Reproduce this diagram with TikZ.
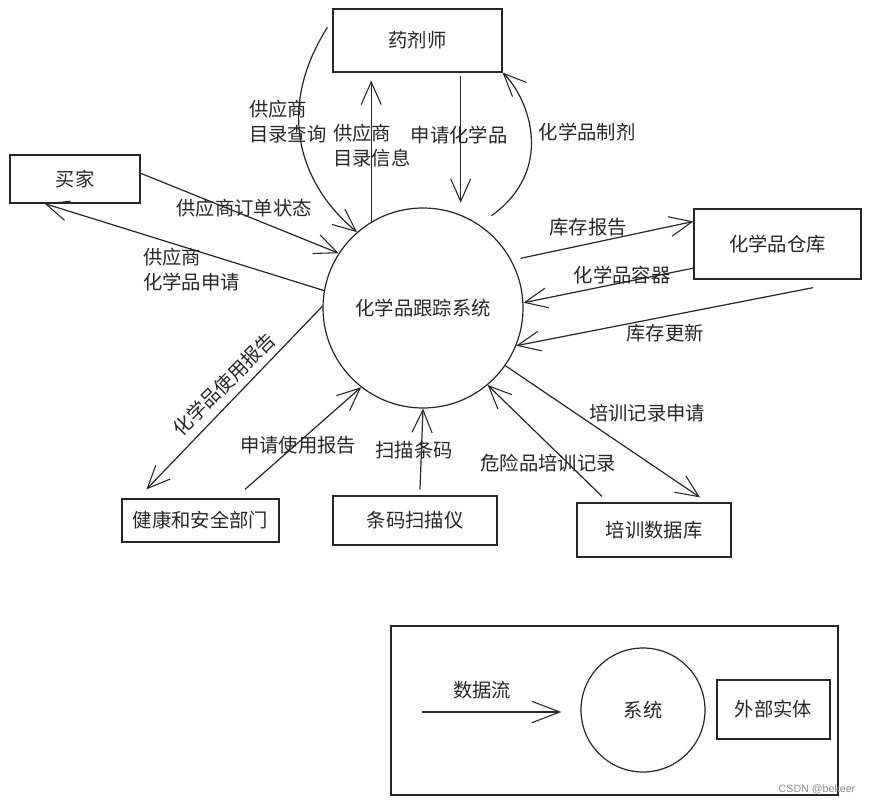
\documentclass[tikz,border=0pt]{standalone}
\usepackage{fontspec}
\setmainfont{Noto Sans CJK SC}
\newfontfamily\wmfont{Liberation Sans}
\usetikzlibrary{arrows.meta,calc}
\begin{document}
\begin{tikzpicture}[x=0.75pt,y=-0.75pt,
  every node/.style={font=\fontsize{14.5}{18.75}\selectfont, text=black!85},
  ent/.style={draw=black!85, line width=0.9pt, inner sep=0pt},
  proc/.style={draw=black!85, line width=0.9pt, circle, inner sep=0pt},
  flow/.style={draw=black!85, line width=0.9pt, -{Straight Barb[length=17pt,width=15pt,line width=0.8pt]}},
  lbl/.style={inner sep=0pt, align=left},
]
\fill[white] (0,0) rectangle (871,803);
\useasboundingbox (0,0) rectangle (871,803);

% entities and processes
\node[ent, minimum width=126.75pt, minimum height=47.25pt] (yj) at (417.5,40.5) {药剂师};
\node[ent, minimum width=97.5pt, minimum height=36pt] (mj) at (75,179) {买家};
\node[ent, minimum width=125.25pt, minimum height=52.5pt] (ck) at (777.5,244) {化学品仓库};
\node[ent, minimum width=117.75pt, minimum height=32.25pt] (jk) at (200.5,520.5) {健康和安全部门};
\node[ent, minimum width=123pt, minimum height=36.75pt] (tm) at (415,520.5) {条码扫描仪};
\node[ent, minimum width=115.5pt, minimum height=40.5pt] (px) at (654,530) {培训数据库};
\node[proc, minimum size=150pt] (sys) at (423,308) {化学品跟踪系统};

% legend
\node[ent, minimum width=335.25pt, minimum height=126.75pt] (lg) at (614.5,710.5) {};
\node[proc, minimum size=93pt] (lgc) at (643,710) {系统};
\node[ent, minimum width=84.75pt, minimum height=44.25pt] (lge) at (773.5,709.5) {外部实体};
\coordinate (la) at ($(lg.west)+(32,1.5)$);
\coordinate (lb) at ($(lgc.west)+(-19,2)$);
\draw[draw=black!85, line width=1.6pt, -{Straight Barb[length=21pt,width=16pt,line width=0.8pt]}] (la) -- (lb);

% flows
\draw[flow] ($(yj.north west)+(-5,19)$) .. controls (275,110) and (300,185) .. (sys.131);
\draw[flow, shorten >=6pt] (sys.121) -- (sys.121 |- yj.south);
\draw[flow, shorten >=9pt] ($(sys.68 |- yj.south)+(0,3)$) -- (sys.68);
\draw[flow] ($(sys.53)+(8,-12)$) .. controls (555,170) and (530,100) .. (yj.south east);
\draw[flow] (mj.5) -- (sys.147);
\draw[flow] (sys.170) -- (mj.219);
\draw[flow] ($(sys.27)+(8,-4)$) -- (ck.165);
\draw[flow] (ck.196) -- (sys.3);
\draw[flow] ($(ck.-50)+(6,8)$) -- (sys.-22);
\draw[flow] (sys.179) -- ($(jk.north west)+(25,-9)$);
\draw[flow] ($(jk.north)+(44.5,-9)$) -- (sys.232);
\draw[flow] ($(tm.north)+(5,-6)$) -- (sys.270);
\draw[flow] ($(px.north)+(-52,-6)$) -- (sys.-50);
\draw[flow] (sys.-35) -- ($(px.north)+(46,-5)$);

% labels
\node[lbl, anchor=west] (l1) at (249,122) {供应商\\目录查询};
\node[lbl, anchor=west] (l2) at (333,146) {供应商\\目录信息};
\node[lbl] (l3) at (459,135) {申请化学品};
\node[lbl] (l4) at (587,132) {化学品制剂};
\node[lbl] (l5) at (244,208) {供应商订单状态};
\node[lbl, anchor=west] (l6) at (143,269.5) {供应商\\化学品申请};
\node[lbl] (l7) at (588,227) {库存报告};
\node[lbl] (l8) at (622,275) {化学品容器};
\node[lbl] (l9) at (665,333) {库存更新};
\node[lbl, rotate=45] (l10) at (224,384) {化学品使用报告};
\node[lbl] (l11) at (298,445) {申请使用报告};
\node[lbl] (l12) at (414,450) {扫描条码};
\node[lbl] (l13) at (548,463) {危险品培训记录};
\node[lbl] (l14) at (647,413) {培训记录申请};
\node[lbl] (l15) at (482,690) {数据流};
\node[font=\wmfont\fontsize{8}{8}\selectfont, text=black!45, inner sep=0pt] (wm) at (817,789) {CSDN @bekeer};
\end{tikzpicture}
\end{document}
